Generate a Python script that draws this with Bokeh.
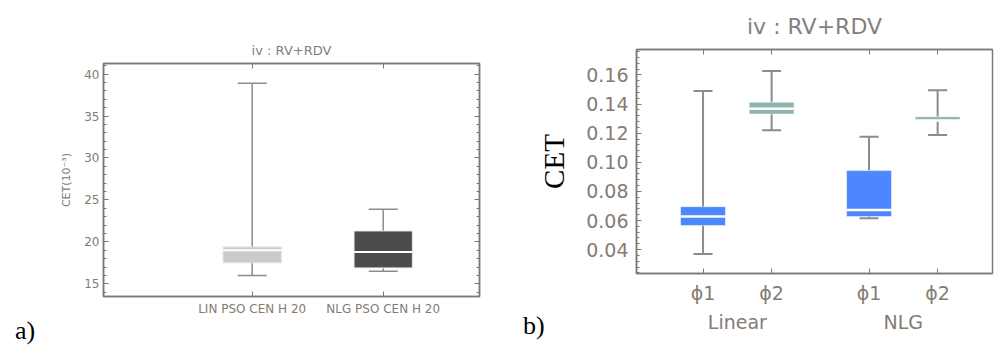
from bokeh.plotting import figure
from bokeh.models import (Range1d, FixedTicker, SingleIntervalTicker, LinearAxis,
                          ColumnDataSource, Whisker, TeeHead, Div,
                          CustomJSTickFormatter, PrintfTickFormatter)
from bokeh.layouts import row, column
from bokeh.embed import file_html
from bokeh.resources import INLINE

# ---------------- data: panel a ----------------
a_categories = ["LIN PSO CEN H 20", "NLG PSO CEN H 20"]
a_low = [16.0, 16.5]
a_q1 = [17.5, 16.9]
a_median = [19.0, 18.8]
a_q3 = [19.4, 21.3]
a_high = [38.9, 23.9]
a_colors = ["#cbcbcb", "#4b4b4b"]

# ---------------- data: panel b ----------------
b_groups = ["Linear", "NLG"]
b_subgroups = ["ϕ1", "ϕ2"]
b_low = [0.037, 0.122, 0.0616, 0.1188]
b_q1 = [0.0566, 0.1331, 0.0627, 0.1287]
b_median = [0.0627, 0.1368, 0.0673, 0.1287]
b_q3 = [0.0695, 0.1413, 0.0943, 0.1313]
b_high = [0.149, 0.1627, 0.1175, 0.1495]
b_colors = ["#4c87ff", "#8fb4af", "#4c87ff", "#8fb4af"]

TEXT_GRAY = "#857b73"
FRAME_GRAY = "#7a7a7a"
WHISK_GRAY = "#8c8c8c"
SANS = "DejaVu Sans"


def style_frame(p):
    p.xgrid.visible = False
    p.ygrid.visible = False
    p.outline_line_color = FRAME_GRAY
    p.outline_line_width = 1.5
    p.background_fill_color = "white"
    p.border_fill_color = "white"


def style_axis(ax, font_size):
    ax.axis_line_color = FRAME_GRAY
    ax.axis_line_width = 1.5
    ax.major_tick_line_color = FRAME_GRAY
    ax.minor_tick_line_color = FRAME_GRAY
    ax.major_tick_in = 5
    ax.major_tick_out = 0
    ax.minor_tick_in = 3
    ax.minor_tick_out = 0
    ax.major_label_text_color = TEXT_GRAY
    ax.major_label_text_font = SANS
    ax.major_label_text_font_size = font_size


def blank_axis(ticker):
    ax = LinearAxis(ticker=ticker, formatter=CustomJSTickFormatter(code="return ''"))
    style_axis(ax, "10px")
    ax.major_label_standoff = 0
    return ax


def panel_tag(text, left, top):
    return Div(text=text, width=40, height=30,
               styles={"position": "absolute", "left": f"{left}px", "top": f"{top}px",
                       "z-index": "10", "font-family": "Liberation Serif",
                       "font-size": "26px", "line-height": "30px", "color": "black"})


# ================= panel a =================
a_pos = [i + 1 for i in range(len(a_categories))]
pa = figure(width=498, height=344, x_range=Range1d(-0.135, 2.735),
            y_range=Range1d(13.49, 41.26), output_backend="svg",
            toolbar_location=None, min_border_left=103, min_border_right=19,
            min_border_top=63, min_border_bottom=48, title="iv : RV+RDV")
style_frame(pa)
pa.title.align = "center"
pa.title.text_font = SANS
pa.title.text_font_style = "normal"
pa.title.text_font_size = "13px"
pa.title.text_color = "#7f7f7f"
pa.title.standoff = 12

style_axis(pa.xaxis[0], "12px")
pa.xaxis.ticker = FixedTicker(ticks=a_pos)
pa.xaxis.major_label_overrides = {p: c for p, c in zip(a_pos, a_categories)}
pa.xaxis.major_label_standoff = 5
style_axis(pa.yaxis[0], "12px")
pa.yaxis.ticker = SingleIntervalTicker(interval=5, num_minor_ticks=5)
pa.yaxis.major_label_standoff = 4
pa.yaxis.axis_label = "CET(10⁻³)"
pa.yaxis.axis_label_text_font = SANS
pa.yaxis.axis_label_text_font_size = "11px"
pa.yaxis.axis_label_text_font_style = "normal"
pa.yaxis.axis_label_text_color = TEXT_GRAY
pa.yaxis.axis_label_standoff = 8

pa.add_layout(blank_axis(SingleIntervalTicker(interval=5, num_minor_ticks=5)), "right")
pa.add_layout(blank_axis(FixedTicker(ticks=a_pos)), "above")

src_a = ColumnDataSource(dict(x=a_pos, low=a_low, q1=a_q1, med=a_median,
                              q3=a_q3, high=a_high, color=a_colors))
pa.add_layout(Whisker(base="x", lower="low", upper="high", source=src_a,
                      line_color=WHISK_GRAY, line_width=1.5,
                      upper_head=TeeHead(size=29, line_color=WHISK_GRAY, line_width=1.5),
                      lower_head=TeeHead(size=29, line_color=WHISK_GRAY, line_width=1.5)))
pa.vbar(x="x", width=0.445, bottom="q1", top="q3", fill_color="color",
        line_color="#e4e4e4", line_width=1, source=src_a)
pa.rect(x="x", y="med", width=0.445, height=2, height_units="screen",
        fill_color="white", line_color=None, source=src_a)

# ================= panel b =================
gap = 0.42
b_pos = []
b_sub_labels = []
b_group_pos = []
for g, grp in enumerate(b_groups):
    start = 1 + g * (len(b_subgroups) + gap)
    for s, sub in enumerate(b_subgroups):
        b_pos.append(start + s)
        b_sub_labels.append(sub)
    b_group_pos.append(start + (len(b_subgroups) - 1) / 2)

pb = figure(width=496, height=344, x_range=Range1d(0.03, 5.22),
            y_range=Range1d(0.0236, 0.1775), output_backend="svg",
            toolbar_location=None, min_border_left=138, min_border_right=2,
            min_border_top=48, min_border_bottom=71, title="iv : RV+RDV")
style_frame(pb)
pb.title.align = "center"
pb.title.offset = 0
pb.title.standoff = 22
pb.title.text_font = SANS
pb.title.text_font_style = "normal"
pb.title.text_font_size = "22px"
pb.title.text_color = "#858080"

style_axis(pb.xaxis[0], "19px")
pb.xaxis.ticker = FixedTicker(ticks=b_pos)
pb.xaxis.major_label_overrides = {p: l for p, l in zip(b_pos, b_sub_labels)}
pb.xaxis.major_label_standoff = 8
style_axis(pb.yaxis[0], "19px")
pb.yaxis.ticker = SingleIntervalTicker(interval=0.02, num_minor_ticks=5)
pb.yaxis.formatter = PrintfTickFormatter(format="%.2f")
pb.yaxis.major_label_standoff = 8
pb.yaxis.axis_label = "CET"
pb.yaxis.axis_label_text_font = "Liberation Serif"
pb.yaxis.axis_label_text_font_size = "29px"
pb.yaxis.axis_label_text_font_style = "normal"
pb.yaxis.axis_label_text_color = "black"
pb.yaxis.axis_label_standoff = 13

gb = LinearAxis(ticker=FixedTicker(ticks=b_group_pos),
                major_label_overrides={p: g for p, g in zip(b_group_pos, b_groups)})
style_axis(gb, "19px")
gb.axis_line_color = None
gb.major_tick_line_color = None
gb.minor_tick_line_color = None
gb.major_label_standoff = 4
pb.add_layout(gb, "below")

pb.add_layout(blank_axis(FixedTicker(ticks=b_pos)), "above")

src_b = ColumnDataSource(dict(x=b_pos, low=b_low, q1=b_q1, med=b_median,
                              q3=b_q3, high=b_high, color=b_colors))
pb.add_layout(Whisker(base="x", lower="low", upper="high", source=src_b,
                      line_color=WHISK_GRAY, line_width=2,
                      upper_head=TeeHead(size=19, line_color=WHISK_GRAY, line_width=2),
                      lower_head=TeeHead(size=19, line_color=WHISK_GRAY, line_width=2)))
pb.vbar(x="x", width=0.655, bottom="q1", top="q3", fill_color="color",
        line_color="white", line_alpha=0.5, line_width=1, source=src_b)
pb.rect(x="x", y="med", width=0.655, height=2.5, height_units="screen",
        fill_color="white", line_color=None, source=src_b)

layout = row(column(pa), column(pb), panel_tag("a)", 10, 311), panel_tag("b)", 518, 306))
open("out.html", "w").write(file_html(layout, INLINE))
